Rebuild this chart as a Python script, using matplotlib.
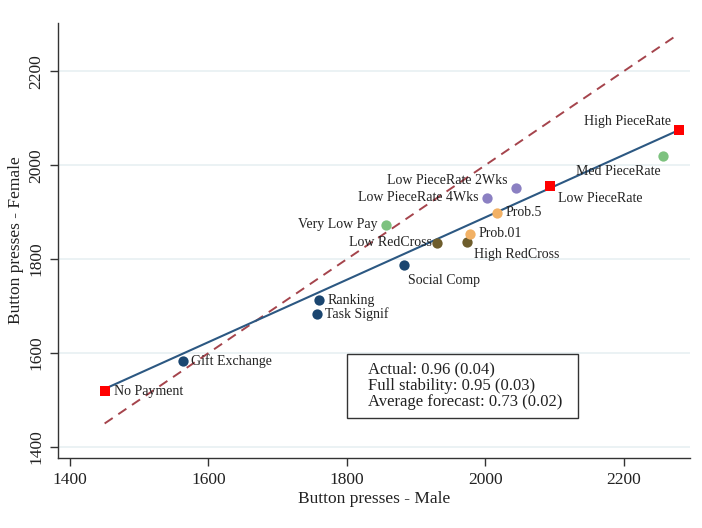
import matplotlib
matplotlib.use("Agg")
import matplotlib.pyplot as plt
from matplotlib.patches import Rectangle

plt.rcParams['font.family'] = ['Liberation Serif', 'DejaVu Serif']

names = ["No Payment", "Gift Exchange", "Ranking", "Task Signif", "Social Comp",
         "Low RedCross", "High RedCross", "Prob.01", "Prob.5", "Very Low Pay",
         "Low PieceRate 4Wks", "Low PieceRate 2Wks", "Low PieceRate",
         "Med PieceRate", "High PieceRate"]
male = [1451, 1563, 1760, 1757, 1883, 1931, 1974, 1978, 2017, 1857, 2003, 2045, 2093, 2257, 2280]
female = [1519, 1583, 1713, 1683, 1788, 1835, 1837, 1854, 1899, 1873, 1931, 1952, 1956, 2020, 2076]
groups = ["piece", "navy", "navy", "navy", "navy", "olive", "olive", "orange", "orange",
          "green", "purple", "purple", "piece", "green", "piece"]

fit_x = [1455, 2280]
fit_y = [1527, 2075]
diag = [1450, 2280]

ticks = [1400, 1600, 1800, 2000, 2200]
stats_text = "Actual: 0.96 (0.04)\nFull stability: 0.95 (0.03)\nAverage forecast: 0.73 (0.02)"

colors = {"navy": "#1b4670", "olive": "#6e5d2c", "orange": "#f2b165",
          "green": "#7dc27f", "purple": "#8b80c2", "piece": "#ff0000"}

# label placement (offset in points, ha, va)
label_pos = {
    "No Payment": (6, 0, 'left', 'center'),
    "Gift Exchange": (6, 0, 'left', 'center'),
    "Ranking": (6, 0, 'left', 'center'),
    "Task Signif": (6, 0, 'left', 'center'),
    "Social Comp": (3, -11, 'left', 'center'),
    "Low RedCross": (-4, 0, 'right', 'center'),
    "High RedCross": (5, -9, 'left', 'center'),
    "Prob.01": (6, 0, 'left', 'center'),
    "Prob.5": (6, 0, 'left', 'center'),
    "Very Low Pay": (-6, 0, 'right', 'center'),
    "Low PieceRate 4Wks": (-6, 0, 'right', 'center'),
    "Low PieceRate 2Wks": (-6, 5, 'right', 'center'),
    "Low PieceRate": (6, -9, 'left', 'center'),
    "Med PieceRate": (-2, -11, 'right', 'center'),
    "High PieceRate": (-6, 6, 'right', 'center'),
}

fig = plt.figure(figsize=(7.02, 5.28), dpi=100)
ax = fig.add_axes([58/702, 1-458/528, (690-58)/702, (458-23)/528])

ax.set_xlim(1382.6, 2296)
ax.set_ylim(1376.5, 2303)

ax.set_yticks(ticks)
ax.set_xticks(ticks)
ax.grid(axis='y', color='#e8f0f2', linewidth=1.2)
ax.set_axisbelow(True)

ax.plot(diag, diag, linestyle=(0, (5, 3.5)), color='#a5444c', linewidth=1.4, zorder=2)
ax.plot(fit_x, fit_y, color='#2c5882', linewidth=1.5, zorder=3)

for n, x, y, g in zip(names, male, female, groups):
    if g == "piece":
        ax.scatter([x], [y], s=62, marker='s', color=colors[g], zorder=4, linewidths=0)
    else:
        ax.scatter([x], [y], s=55, marker='o', color=colors[g], zorder=4, linewidths=0)
    dx, dy, ha, va = label_pos[n]
    ax.annotate(n, (x, y), xytext=(dx, dy), textcoords='offset points',
                ha=ha, va=va, fontsize=10, color='#222222', zorder=5)

for s in ['top', 'right']:
    ax.spines[s].set_visible(False)
for s in ['left', 'bottom']:
    ax.spines[s].set_color('#333333')
    ax.spines[s].set_linewidth(1.0)

ax.tick_params(axis='both', length=6, width=1.0, color='#333333', labelsize=12.5,
               labelcolor='#222222', pad=4)
for lab in ax.get_yticklabels():
    lab.set_rotation(90)
    lab.set_va('center')

ax.set_xlabel("Button presses - Male", fontsize=12.5, color='#222222', labelpad=2)
ax.set_ylabel("Button presses - Female", fontsize=12.5, color='#222222', labelpad=3)

box = Rectangle((0.4573, 0.092), 0.8228 - 0.4573, 0.239 - 0.092, transform=ax.transAxes,
                facecolor='white', edgecolor='#333333', linewidth=1.0, zorder=6)
ax.add_patch(box)
ax.text(0.4905, 0.166, stats_text, transform=ax.transAxes, fontsize=12, color='#222222',
        va='center', ha='left', linespacing=1.0, zorder=7)

fig.savefig("out.png", dpi=100)
